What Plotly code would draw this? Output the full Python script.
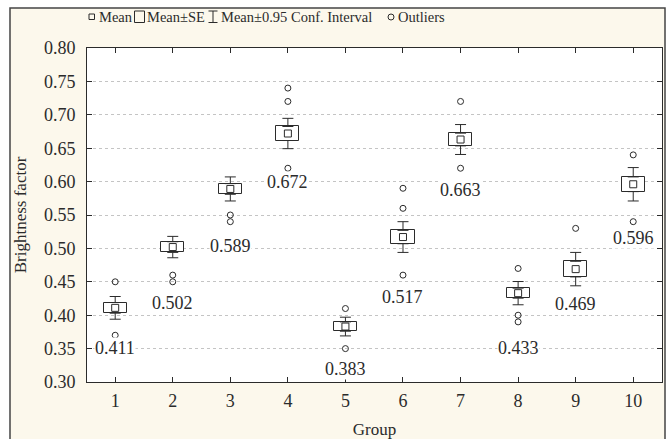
import plotly.graph_objects as go

# ---- data ----
groups = [1, 2, 3, 4, 5, 6, 7, 8, 9, 10]
means = [0.411, 0.502, 0.589, 0.672, 0.383, 0.517, 0.663, 0.433, 0.469, 0.596]
se = [0.008, 0.008, 0.008, 0.0105, 0.007, 0.010, 0.0095, 0.0075, 0.0117, 0.011]
ci95 = [0.017, 0.016, 0.018, 0.0227, 0.014, 0.023, 0.0224, 0.0174, 0.025, 0.025]
outliers = [
    [0.45, 0.37],
    [0.46, 0.45],
    [0.55, 0.54],
    [0.74, 0.72, 0.62],
    [0.41, 0.35],
    [0.59, 0.56, 0.46],
    [0.72, 0.62],
    [0.47, 0.40, 0.39],
    [0.53],
    [0.64, 0.54],
]
y_ticks = [0.30, 0.35, 0.40, 0.45, 0.50, 0.55, 0.60, 0.65, 0.70, 0.75, 0.80]

# ---- style ----
FONT = "Liberation Serif"
INK = "#2b2b2b"
CREAM = "#fcf8ec"
label_dy = [13, 21, 24, 14, 20, 22, 22, 26, 18, 16]  # px gap under lowest mark

W, H = 672, 439
ML, MR, MT, MB = 87, 10, 48, 57
PW, PH = W - ML - MR, H - MT - MB


def px(x):
    return (x - ML) / PW


def py(y):
    return (H - MB - y) / PH


fig = go.Figure()

# SE boxes
fig.add_trace(go.Bar(
    x=groups,
    y=[2 * s for s in se],
    base=[m - s for m, s in zip(means, se)],
    width=0.4,
    marker=dict(color="white", line=dict(color=INK, width=1)),
    showlegend=False, hoverinfo="skip",
))

# CI whiskers (upper and lower parts, starting at box edges)
fig.add_trace(go.Scatter(
    x=groups, y=[m + s for m, s in zip(means, se)], mode="markers",
    marker=dict(size=1, color="rgba(0,0,0,0)"),
    error_y=dict(type="data", symmetric=False,
                 array=[c - s for c, s in zip(ci95, se)],
                 arrayminus=[0] * len(groups),
                 color=INK, thickness=1, width=5.5),
    showlegend=False, hoverinfo="skip",
))
fig.add_trace(go.Scatter(
    x=groups, y=[m - s for m, s in zip(means, se)], mode="markers",
    marker=dict(size=1, color="rgba(0,0,0,0)"),
    error_y=dict(type="data", symmetric=False,
                 array=[0] * len(groups),
                 arrayminus=[c - s for c, s in zip(ci95, se)],
                 color=INK, thickness=1, width=5.5),
    showlegend=False, hoverinfo="skip",
))

# Means
fig.add_trace(go.Scatter(
    x=groups, y=means, mode="markers",
    marker=dict(symbol="square-open", size=7, color=INK, line=dict(width=1)),
    showlegend=False, hoverinfo="skip",
))

# Outliers
ox, oy = [], []
for g, vals in zip(groups, outliers):
    for v in vals:
        ox.append(g)
        oy.append(v)
fig.add_trace(go.Scatter(
    x=ox, y=oy, mode="markers",
    marker=dict(symbol="circle-open", size=6, color=INK, line=dict(width=1)),
    showlegend=False, hoverinfo="skip",
))

# Mean value labels
for g, m, c, vals, dy in zip(groups, means, ci95, outliers, label_dy):
    low = min([m - c] + vals)
    fig.add_annotation(
        x=g, y=low, xref="x", yref="y", text=f"{m:.3f}", showarrow=False,
        yshift=-dy, font=dict(family=FONT, size=18, color=INK),
        bgcolor="white", borderpad=0,
    )

# ---- frame, margins, legend decorations ----
shapes = [
    # white strips outside the frame
    dict(type="rect", xref="paper", yref="paper", x0=px(-5), x1=px(10), y0=py(H + 5), y1=py(-5),
         fillcolor="white", line=dict(width=0), layer="below"),
    dict(type="rect", xref="paper", yref="paper", x0=px(-5), x1=px(W + 5), y0=py(8), y1=py(-5),
         fillcolor="white", line=dict(width=0), layer="below"),
    dict(type="rect", xref="paper", yref="paper", x0=px(665), x1=px(W + 5), y0=py(H + 5), y1=py(-5),
         fillcolor="white", line=dict(width=0), layer="below"),
    # outer frame
    dict(type="rect", xref="paper", yref="paper", x0=px(10), x1=px(665), y0=py(H + 5), y1=py(8),
         line=dict(color="#444", width=1.5)),
    # legend symbols
    dict(type="rect", xref="paper", yref="paper", x0=px(89), x1=px(94.5), y0=py(19.5), y1=py(14),
         line=dict(color=INK, width=1)),
    dict(type="rect", xref="paper", yref="paper", x0=px(134.5), x1=px(144.5), y0=py(22.5), y1=py(11),
         line=dict(color=INK, width=1)),
    dict(type="line", xref="paper", yref="paper", x0=px(213), x1=px(213), y0=py(22.5), y1=py(11),
         line=dict(color=INK, width=1)),
    dict(type="line", xref="paper", yref="paper", x0=px(208.5), x1=px(217.5), y0=py(11), y1=py(11),
         line=dict(color=INK, width=1)),
    dict(type="line", xref="paper", yref="paper", x0=px(208.5), x1=px(217.5), y0=py(22.5), y1=py(22.5),
         line=dict(color=INK, width=1)),
    dict(type="circle", xref="paper", yref="paper", x0=px(388), x1=px(394), y0=py(20), y1=py(14),
         line=dict(color=INK, width=1)),
]
fig.update_layout(shapes=shapes)

legend_items = [("Mean", 98), ("Mean±SE", 146), ("Mean±0.95 Conf. Interval", 220), ("Outliers", 397)]
for txt, x0 in legend_items:
    fig.add_annotation(
        x=px(x0), y=py(17), xref="paper", yref="paper", text=txt, showarrow=False,
        xanchor="left", yanchor="middle", font=dict(family=FONT, size=14.5, color=INK),
        xshift=-1,
    )

fig.update_layout(
    width=W, height=H,
    margin=dict(l=ML, r=MR, t=MT, b=MB, autoexpand=False),
    paper_bgcolor=CREAM, plot_bgcolor="white",
    font=dict(family=FONT, color=INK),
    bargap=0,
    xaxis=dict(
        range=[0.51, 10.5], tickmode="array", tickvals=groups, ticktext=[str(g) for g in groups],
        showgrid=False, zeroline=False, showline=True, linecolor=INK, linewidth=1,
        mirror="ticks", ticks="inside", ticklen=5, tickcolor=INK, automargin=False,
        tickfont=dict(family=FONT, size=18, color=INK), ticklabelstandoff=2,
        title=dict(text="Group", font=dict(family=FONT, size=17, color=INK), standoff=16),
    ),
    yaxis=dict(
        range=[0.30, 0.80], tickmode="array", tickvals=y_ticks,
        ticktext=[f"{v:.2f}" for v in y_ticks],
        showgrid=True, gridcolor="#c4c4c4", griddash="dot", gridwidth=1,
        zeroline=False, showline=True, linecolor=INK, linewidth=1,
        mirror="ticks", ticks="inside", ticklen=5, tickcolor=INK, automargin=False,
        tickfont=dict(family=FONT, size=18, color=INK), ticklabelstandoff=7,
        title=dict(text="Brightness factor", font=dict(family=FONT, size=17, color=INK), standoff=12),
    ),
)

fig.write_html(
    "out.html",
    config={"displayModeBar": False},
    post_script="document.body.style.margin='0';document.body.style.overflow='hidden';",
)
